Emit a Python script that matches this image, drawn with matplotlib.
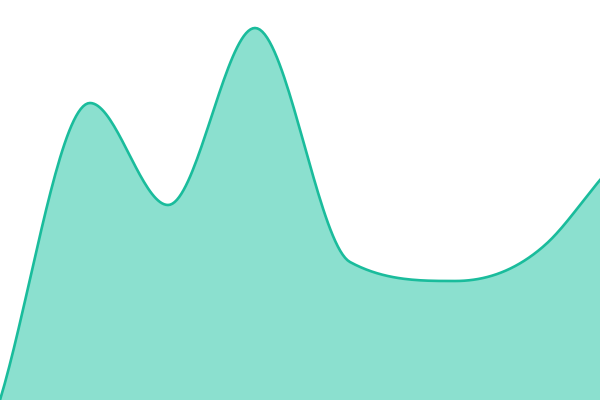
import numpy as np
import matplotlib
matplotlib.use('Agg')
import matplotlib.pyplot as plt

# data
x = [0, 90, 168, 255, 350, 455, 545, 600]
y = [0, 297, 195, 372, 138, 119, 155, 220]

line_color = '#1abc9c'
fill_color = '#8be0cf'


def smooth(xs, ys, n=40):
    # hermite curve, flat at the turning points, rounder knees elsewhere
    xs = np.asarray(xs, float)
    ys = np.asarray(ys, float)
    h = np.diff(xs)
    d = np.diff(ys) / h
    m = np.zeros_like(ys)
    for i in range(1, len(xs) - 1):
        if d[i - 1] * d[i] > 0:
            p = (d[i - 1] * h[i] + d[i] * h[i - 1]) / (h[i - 1] + h[i])
            lim = 3 * min(abs(d[i - 1]), abs(d[i]))
            m[i] = np.sign(p) * min(abs(p), lim)
    m[0] = d[0]
    m[-1] = d[-1]
    px, py = [], []
    for i in range(len(xs) - 1):
        t = np.linspace(0, 1, n)
        h00 = 2 * t**3 - 3 * t**2 + 1
        h10 = t**3 - 2 * t**2 + t
        h01 = -2 * t**3 + 3 * t**2
        h11 = t**3 - t**2
        px.extend(xs[i] + t * h[i])
        py.extend(h00 * ys[i] + h10 * h[i] * m[i] + h01 * ys[i + 1] + h11 * h[i] * m[i + 1])
    return np.array(px), np.array(py)


sx, sy = smooth(x, y)

fig = plt.figure(figsize=(6, 4), dpi=100)
ax = fig.add_axes([0, 0, 1, 1])
ax.fill_between(sx, sy, 0, color=fill_color, lw=0)
ax.plot(sx, sy, color=line_color, lw=1.9)
ax.set_xlim(0, 600)
ax.set_ylim(0, 400)
ax.axis('off')
fig.savefig('out.png', dpi=100)
